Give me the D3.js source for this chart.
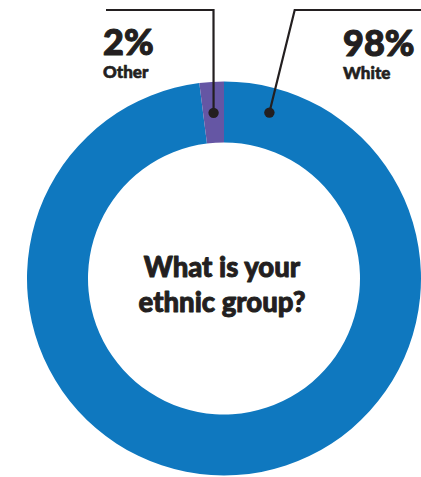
<!DOCTYPE html>
<html>
<head>
<meta charset="utf-8">
<script src="https://cdn.jsdelivr.net/npm/d3@7"></script>
<style>
  html, body { margin: 0; padding: 0; background: #ffffff; }
  svg { display: block; }
  text { font-family: Lato, Inter, "Noto Sans", sans-serif; fill: #231f20; stroke: #231f20; stroke-linejoin: round; }
</style>
</head>
<body>
<svg id="chart" width="421" height="477"></svg>
<script>
// Survey answers: share of respondents per ethnic group (%)
const categories = ["White", "Other"];
const values = [98, 2];
const colors = ["#0f78bf", "#6556a4"];
const question = ["What is your", "ethnic group?"];

// Layout
const W = 421, H = 477;
const cx = 224, cy = 278.5;
const outerR = 197, innerR = 136;

// Leader lines: anchor angle on the ring (degrees from 12 o'clock),
// elbow point, end of horizontal run, and label anchor.
const leaders = {
  White: { angle: 15.3, anchorR: 172, elbow: [294.7, 10], end: [421, 10], label: [343, 56] },
  Other: { angle: null, anchorR: 166, elbow: [213.5, 10], end: [106, 10], label: [103, 55] }
};

const svg = d3.select("#chart");
const g = svg.append("g").attr("transform", `translate(${cx},${cy})`);

const pie = d3.pie().sort(null).value(d => d.value).startAngle(0).endAngle(2 * Math.PI);
const data = categories.map((c, i) => ({ category: c, value: values[i], color: colors[i] }));
const arcs = pie(data);

const arc = d3.arc().innerRadius(innerR).outerRadius(outerR);

g.selectAll("path.slice")
  .data(arcs)
  .join("path")
  .attr("class", "slice")
  .attr("d", arc)
  .attr("fill", d => d.data.color);

// Leader lines and labels
arcs.forEach(a => {
  const L = leaders[a.data.category];
  const ang = L.angle === null ? (a.startAngle + a.endAngle) / 2 : L.angle * Math.PI / 180;
  const px = cx + L.anchorR * Math.sin(ang);
  const py = cy - L.anchorR * Math.cos(ang);
  const pts = [[px, py], L.elbow, L.end];
  svg.append("path")
    .attr("d", d3.line()(pts))
    .attr("fill", "none")
    .attr("stroke", "#231f20")
    .attr("stroke-width", 2.2);
  svg.append("circle")
    .attr("cx", px).attr("cy", py).attr("r", 5.2)
    .attr("fill", "#231f20");

  // Percentage with the group name beneath it
  const t = svg.append("text")
    .attr("text-anchor", "start")
    .attr("font-weight", 900);
  t.append("tspan")
    .attr("x", L.label[0]).attr("y", L.label[1])
    .attr("font-size", 36)
    .attr("stroke-width", 1.1)
    .text(a.data.value + "%");
  t.append("tspan")
    .attr("x", L.label[0]).attr("y", L.label[1] + 22.5)
    .attr("font-size", 17)
    .attr("stroke-width", 0.6)
    .text(a.data.category);
});

// Question in the centre of the ring
const q = svg.append("text")
  .attr("text-anchor", "middle")
  .attr("font-size", 27.5)
  .attr("font-weight", 900)
  .attr("stroke-width", 0.9);
question.forEach((line, i) => {
  q.append("tspan")
    .attr("x", 222)
    .attr("y", 276.5 + i * 35.7)
    .text(line);
});
</script>
</body>
</html>
